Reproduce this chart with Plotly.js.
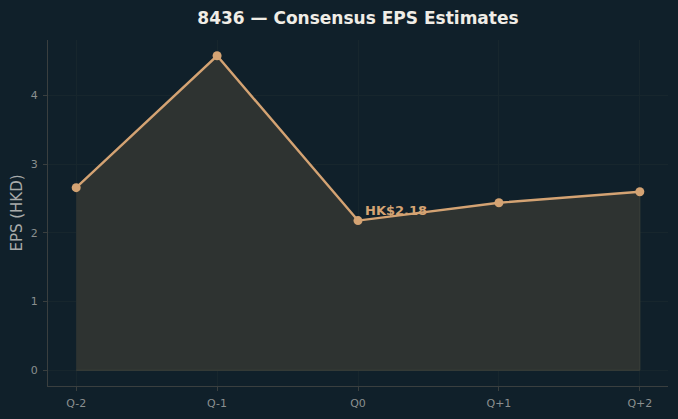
<!DOCTYPE html>
<html><head><meta charset="utf-8">
<script src="https://cdn.plot.ly/plotly-3.0.1.min.js"></script>
<style>html,body{margin:0;padding:0;background:#10202a;}</style>
</head><body><div id="chart" style="width:678px;height:419px;"></div>
<script>
const quarters = ["Q-2","Q-1","Q0","Q+1","Q+2"];
const eps = [2.66, 4.58, 2.18, 2.44, 2.60];
const zeroLine = [0, 0];
const currentLabel = "HK$2.18";
const currentIndex = 2;

const polyX = quarters.concat([quarters[quarters.length-1], quarters[0]]);
const polyY = eps.concat(zeroLine);

const traces = [
  {x: polyX, y: polyY, type: "scatter", mode: "lines", fill: "toself",
   fillcolor: "#2e3331", line: {color: "#3c403a", width: 1}, hoverinfo: "skip", showlegend: false},
  {x: quarters, y: eps, type: "scatter", mode: "lines+markers",
   line: {color: "#d4a373", width: 2.4}, marker: {color: "#d4a373", size: 9}, showlegend: false}
];

const layout = {
  width: 678, height: 419,
  paper_bgcolor: "#10202a", plot_bgcolor: "#10202a",
  margin: {l: 48, r: 10, t: 40, b: 33},
  title: {text: "8436 — Consensus EPS Estimates", x: 0.528, xanchor: "center", y: 0.957, yanchor: "middle",
          font: {family: "DejaVu Sans", size: 17, color: "#f0ede6", weight: "bold"}},
  xaxis: {type: "category", range: [-0.2, 4.2], showline: true, linecolor: "#3a3f3f", linewidth: 1,
          ticks: "outside", ticklen: 4, tickcolor: "#3a3f3f", showgrid: true, gridcolor: "#17262d",
          ticklabelstandoff: 3,
          tickfont: {family: "DejaVu Sans", size: 11, color: "#8a8f8f"}, zeroline: false, mirror: false},
  yaxis: {range: [-0.229, 4.81], showline: true, linecolor: "#3a3f3f", linewidth: 1,
          ticks: "outside", ticklen: 4, tickcolor: "#3a3f3f", showgrid: true, gridcolor: "#17262d",
          dtick: 1, zeroline: false, ticklabelstandoff: 3,
          tickfont: {family: "DejaVu Sans", size: 11, color: "#8a8f8f"},
          title: {text: "EPS (HKD)", standoff: 4, font: {family: "DejaVu Sans", size: 15, color: "#a8abaa"}}},
  annotations: [{x: quarters[currentIndex], y: eps[currentIndex], text: currentLabel, showarrow: false,
    xanchor: "left", yanchor: "bottom", xshift: 5, yshift: 1,
    font: {family: "DejaVu Sans", size: 13, color: "#d4a373", weight: "bold"}}]
};

Plotly.newPlot("chart", traces, layout, {displayModeBar: false, staticPlot: true});
</script></body></html>
